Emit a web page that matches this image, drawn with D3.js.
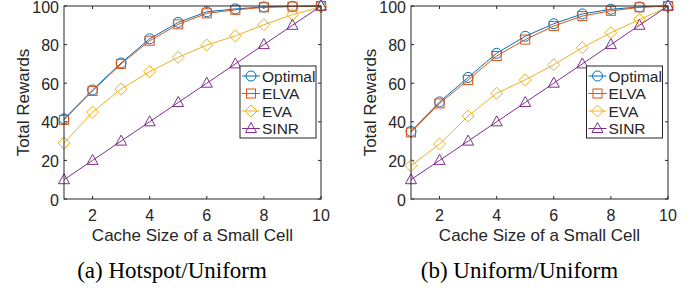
<!DOCTYPE html>
<html>
<head>
<meta charset="utf-8">
<script src="https://cdn.jsdelivr.net/npm/d3@7"></script>
<style>
  body { margin: 0; background: #fff; }
  svg text { font-family: "Liberation Sans", Arial, sans-serif; fill: #262626; }
  .cap { font-family: "Liberation Serif", "Times New Roman", serif; fill: #000; }
</style>
</head>
<body>
<div class="container"></div>
<script>
var cacheSize = [1, 2, 3, 4, 5, 6, 7, 8, 9, 10];
var xTicks = [2, 4, 6, 8, 10];
var yTicks = [0, 20, 40, 60, 80, 100];
var seriesNames = ['Optimal', 'ELVA', 'EVA', 'SINR'];

// (a) Hotspot/Uniform
var optimalA = [41.5, 56.5, 70.5, 83, 91.5, 97, 98.5, 99.5, 99.8, 100];
var elvaA    = [41, 56, 70, 82, 90.5, 96.2, 98, 99.3, 99.7, 100];
var evaA     = [29, 45, 57, 66, 73.4, 79.8, 84.5, 90.3, 95.5, 99.5];
var sinrA    = [10, 20, 30, 40, 50, 60, 70, 80, 90, 100];

// (b) Uniform/Uniform
var optimalB = [35, 50.3, 63, 75.5, 84.3, 90.8, 95.9, 98.3, 99.5, 100];
var elvaB    = [34.5, 49.5, 61.7, 74.1, 82.6, 89.6, 94.8, 97.5, 99.3, 100];
var evaB     = [17.3, 28.5, 43, 54.8, 61.7, 69.6, 78.4, 86.2, 93, 99.5];
var sinrB    = [10, 20, 30, 40, 50, 60, 70, 80, 90, 100];

var colors = ['#0072BD', '#D95319', '#EDB120', '#7E2F8E'];
var symbols = ['circle', 'square', 'diamond', 'triangle'];

var svg = d3.select('.container')
    .append('svg')
    .attr('width', 694)
    .attr('height', 289);

function marker(g, type, x, y, c) {
    if (type == 'circle') {
        g.append('circle').attr('cx', x).attr('cy', y).attr('r', 5)
            .attr('fill', 'none').attr('stroke', c).attr('stroke-width', 1);
    } else if (type == 'square') {
        g.append('rect').attr('x', x - 4.5).attr('y', y - 4.5).attr('width', 9).attr('height', 9)
            .attr('fill', 'none').attr('stroke', c).attr('stroke-width', 1);
    } else if (type == 'diamond') {
        g.append('path').attr('d', 'M' + x + ',' + (y - 6) + 'L' + (x + 6) + ',' + y + 'L' + x + ',' + (y + 6) + 'L' + (x - 6) + ',' + y + 'Z')
            .attr('fill', 'none').attr('stroke', c).attr('stroke-width', 1);
    } else {
        g.append('path').attr('d', 'M' + x + ',' + (y - 6) + 'L' + (x + 5.5) + ',' + (y + 4) + 'L' + (x - 5.5) + ',' + (y + 4) + 'Z')
            .attr('fill', 'none').attr('stroke', c).attr('stroke-width', 1);
    }
}

function drawChart(left, series, caption, capX, legX) {
    var right = left + 257;
    var top = 6, bottom = 199;
    var x = d3.scaleLinear().domain([1, 10]).range([left, right]);
    var y = d3.scaleLinear().domain([0, 100]).range([bottom, top]);
    var g = svg.append('g');

    // ticks inward, on all four sides
    xTicks.forEach(function(t) {
        g.append('line').attr('x1', x(t)).attr('x2', x(t)).attr('y1', bottom).attr('y2', bottom - 3)
            .attr('stroke', '#262626');
        g.append('line').attr('x1', x(t)).attr('x2', x(t)).attr('y1', top).attr('y2', top + 3)
            .attr('stroke', '#262626');
        g.append('text').attr('x', x(t)).attr('y', bottom + 22)
            .attr('text-anchor', 'middle').style('font-size', '16px').text(t);
    });
    yTicks.forEach(function(t) {
        g.append('line').attr('x1', left).attr('x2', left + 3).attr('y1', y(t)).attr('y2', y(t))
            .attr('stroke', '#262626');
        g.append('line').attr('x1', right).attr('x2', right - 3).attr('y1', y(t)).attr('y2', y(t))
            .attr('stroke', '#262626');
        g.append('text').attr('x', left - 5).attr('y', y(t) + 6.5)
            .attr('text-anchor', 'end').style('font-size', '16px').text(t);
    });

    series.forEach(function(s, i) {
        var line = d3.line().x(function(d, j) { return x(cacheSize[j]); }).y(function(d) { return y(d); });
        g.append('path').attr('d', line(s)).attr('fill', 'none')
            .attr('stroke', colors[i]).attr('stroke-width', 1);
        s.forEach(function(d, j) {
            marker(g, symbols[i], x(cacheSize[j]), y(d), colors[i]);
        });
    });

    g.append('rect').attr('x', left).attr('y', top).attr('width', right - left).attr('height', bottom - top)
        .attr('fill', 'none').attr('stroke', '#262626').attr('stroke-width', 1);

    g.append('text').attr('x', (left + right) / 2).attr('y', 240.5)
        .attr('text-anchor', 'middle').style('font-size', '17px').text('Cache Size of a Small Cell');
    g.append('text').attr('transform', 'translate(' + (left - 35) + ',' + ((top + bottom) / 2) + ') rotate(-90)')
        .attr('text-anchor', 'middle').style('font-size', '17px').text('Total Rewards');

    // legend
    var lg = g.append('g');
    lg.append('rect').attr('x', legX).attr('y', 66).attr('width', 76).attr('height', 72)
        .attr('fill', '#fff').attr('stroke', '#262626').attr('stroke-width', 1);
    seriesNames.forEach(function(n, i) {
        var ly = 76 + i * 17.5;
        lg.append('line').attr('x1', legX + 2).attr('x2', legX + 20).attr('y1', ly).attr('y2', ly)
            .attr('stroke', colors[i]).attr('stroke-width', 1);
        marker(lg, symbols[i], legX + 11, ly, colors[i]);
        lg.append('text').attr('x', legX + 22).attr('y', ly + 5.5).style('font-size', '15.5px').text(n);
    });

    svg.append('text').attr('class', 'cap').attr('x', capX).attr('y', 278)
        .attr('text-anchor', 'middle').style('font-size', '23px').text(caption);
}

drawChart(64, [optimalA, elvaA, evaA, sinrA], '(a) Hotspot/Uniform', 172, 240);
drawChart(411, [optimalB, elvaB, evaB, sinrB], '(b) Uniform/Uniform', 519.5, 586.5);
</script>
</body>
</html>
